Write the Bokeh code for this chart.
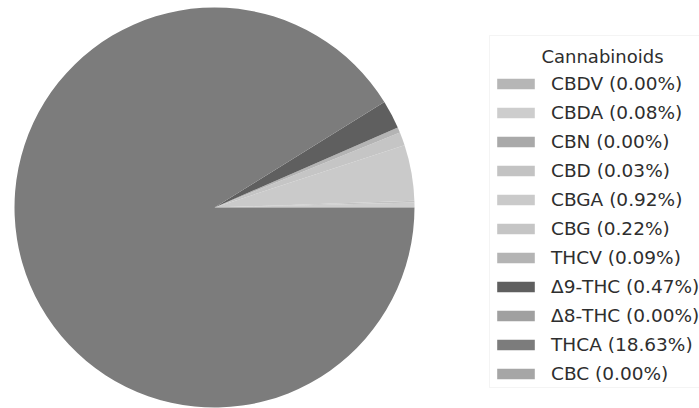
import numpy as np
from bokeh.plotting import figure
from bokeh.models import ColumnDataSource, Legend, LegendItem, Range1d, BoxAnnotation, Label
from bokeh.embed import file_html
from bokeh.resources import INLINE

# ---- data ----
names = ["CBDV", "CBDA", "CBN", "CBD", "CBGA", "CBG", "THCV",
         "Δ9-THC", "Δ8-THC", "THCA", "CBC"]
percents = [0.00, 0.08, 0.00, 0.03, 0.92, 0.22, 0.09, 0.47, 0.00, 18.63, 0.00]
colors = ["#b6b6b6", "#cdcdcd", "#a9a9a9", "#c3c3c3", "#cacaca", "#c5c5c5",
          "#b4b4b4", "#5f5f5f", "#a0a0a0", "#7c7c7c", "#a6a6a6"]
legend_title = "Cannabinoids"

# ---- layout (page is 699x408, data units == pixels, y up) ----
W, H = 699, 408
CX, CY, R = 214, 201, 200

vals = np.array(percents, dtype=float)
frac = vals / vals.sum()
ends = np.cumsum(frac) * 2 * np.pi
starts = ends - frac * 2 * np.pi

src = ColumnDataSource(dict(
    name=names, pct=percents, color=colors,
    start=starts, end=ends,
    radius=[R if v > 0 else 0 for v in percents],
    label=[f"{n} ({v:.2f}%)" for n, v in zip(names, percents)],
))

p = figure(width=W, height=H, output_backend="svg", toolbar_location=None,
           x_range=Range1d(0, W), y_range=Range1d(0, H), min_border=0)
p.axis.visible = False
p.grid.visible = False
p.outline_line_color = None
p.background_fill_color = "white"

r = p.wedge(x=CX, y=CY, radius="radius", start_angle="start", end_angle="end",
            fill_color="color", line_color=None, source=src)

# legend frame and centred title
frame = BoxAnnotation(left=489, right=720, top=H - 35, bottom=H - 387,
                      fill_color="white", fill_alpha=1.0,
                      line_color="#d9d9d9", line_width=1)
p.add_layout(frame)
p.add_layout(Label(x=602, y=H - 56, text=legend_title, text_align="center",
                   text_baseline="middle", text_font="DejaVu Sans",
                   text_font_size="18px", text_color="#2e2e2e"))

items = [LegendItem(label=lab, renderers=[r], index=i)
         for i, lab in enumerate(src.data["label"])]
legend = Legend(items=items, location=(492, 24.5),
                label_text_font="DejaVu Sans", label_text_font_size="18.5px",
                label_text_color="#2e2e2e",
                glyph_width=47, glyph_height=13, label_standoff=12,
                padding=3, spacing=8,
                border_line_color=None, background_fill_alpha=0.0)
p.add_layout(legend)

open("out.html", "w").write(file_html(p, INLINE))
